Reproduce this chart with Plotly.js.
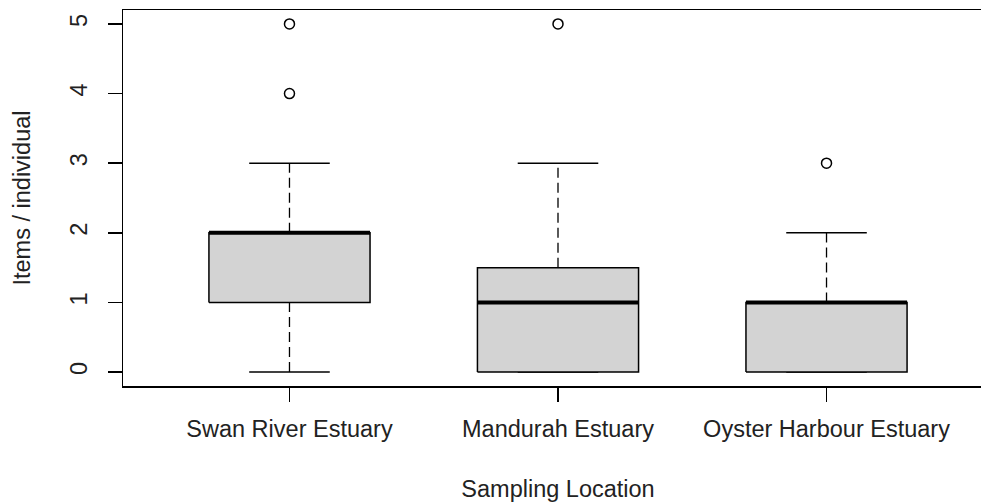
<!DOCTYPE html>
<html>
<head>
<meta charset="utf-8">
<script src="https://cdn.plot.ly/plotly-3.0.1.min.js"></script>
<style>
  html, body { margin: 0; padding: 0; overflow: hidden; background: #fff; }
  #chart { width: 993px; height: 503px; }
</style>
</head>
<body>
<div id="chart"></div>
<script>
// ---- Data ----
const categories    = ["Swan River Estuary", "Mandurah Estuary", "Oyster Harbour Estuary"];
const lowerWhisker  = [0, 0, 0];
const q1            = [1, 0, 0];
const median        = [2, 1, 1];
const q3            = [2, 1.5, 1];
const upperWhisker  = [3, 3, 2];
const outlierCategory = ["Swan River Estuary", "Swan River Estuary", "Mandurah Estuary", "Oyster Harbour Estuary"];
const outlierValue    = [5, 4, 5, 3];
const yTickValues   = [0, 1, 2, 3, 4, 5];
const xTitle = "Sampling Location";
const yTitle = "Items / individual";

// ---- Styling constants ----
const BOX_HALF = 0.3;
const CAP_HALF = 0.15;
const INK = "#000000";
const TXT = "#222222";
const FONT = "Liberation Sans, Arial, sans-serif";
const FS = 23.5;

const traces = [];
categories.forEach((cat, i) => {
  const x = i + 1;
  // lower whisker (dashed)
  traces.push({ type: "scatter", mode: "lines", x: [x, x], y: [lowerWhisker[i], q1[i]],
    line: { color: INK, width: 1.3, dash: "10px,5px" }, hoverinfo: "skip" });
  // upper whisker (dashed)
  traces.push({ type: "scatter", mode: "lines", x: [x, x], y: [q3[i], upperWhisker[i]],
    line: { color: INK, width: 1.3, dash: "10px,5px" }, hoverinfo: "skip" });
  // caps
  traces.push({ type: "scatter", mode: "lines", x: [x - CAP_HALF, x + CAP_HALF], y: [lowerWhisker[i], lowerWhisker[i]],
    line: { color: INK, width: 1.5 }, hoverinfo: "skip" });
  traces.push({ type: "scatter", mode: "lines", x: [x - CAP_HALF, x + CAP_HALF], y: [upperWhisker[i], upperWhisker[i]],
    line: { color: INK, width: 1.5 }, hoverinfo: "skip" });
  // box
  traces.push({ type: "scatter", mode: "lines", fill: "toself", fillcolor: "#d3d3d3",
    x: [x - BOX_HALF, x + BOX_HALF, x + BOX_HALF, x - BOX_HALF, x - BOX_HALF],
    y: [q1[i], q1[i], q3[i], q3[i], q1[i]],
    line: { color: INK, width: 1.5 }, hoverinfo: "skip" });
  // median (thick)
  traces.push({ type: "scatter", mode: "lines", x: [x - BOX_HALF, x + BOX_HALF], y: [median[i], median[i]],
    line: { color: INK, width: 4 }, hoverinfo: "skip" });
});
// outliers
traces.push({ type: "scatter", mode: "markers",
  x: outlierCategory.map(c => categories.indexOf(c) + 1), y: outlierValue,
  marker: { symbol: "circle-open", size: 10, color: INK, line: { width: 1.5, color: INK } },
  hoverinfo: "skip" });

const layout = {
  width: 993, height: 503,
  margin: { l: 123, r: 0, t: 10, b: 117 },
  paper_bgcolor: "#ffffff", plot_bgcolor: "#ffffff",
  showlegend: false, hovermode: false,
  font: { family: FONT, color: TXT, size: FS },
  xaxis: {
    range: [0.38, 3.62], tickmode: "array", tickvals: categories.map((c, i) => i + 1), ticktext: categories,
    ticks: "outside", ticklen: 14, tickwidth: 1.5, tickcolor: INK, ticklabelstandoff: 7,
    showline: true, linecolor: INK, linewidth: 1.5, mirror: true,
    showgrid: false, zeroline: false,
    tickfont: { size: FS, family: FONT, color: TXT },
    title: { text: xTitle, font: { size: FS, family: FONT, color: TXT }, standoff: 40 }
  },
  yaxis: {
    range: [-0.2, 5.2], tickmode: "array", tickvals: yTickValues, ticktext: yTickValues.map(String),
    ticks: "outside", ticklen: 14, tickwidth: 1.5, tickcolor: INK, tickangle: -90, ticklabelstandoff: 11,
    showline: true, linecolor: INK, linewidth: 1.5, mirror: true,
    showgrid: false, zeroline: false,
    tickfont: { size: FS, family: FONT, color: TXT },
    title: { text: yTitle, font: { size: FS, family: FONT, color: TXT }, standoff: 29 }
  }
};

Plotly.newPlot("chart", traces, layout, { staticPlot: true, displayModeBar: false });
</script>
</body>
</html>
